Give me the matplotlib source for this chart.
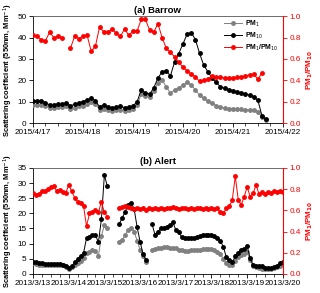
import numpy as np
import pandas as pd
import matplotlib
matplotlib.use("Agg")
import matplotlib.pyplot as plt
import matplotlib.dates as mdates
from matplotlib.ticker import FuncFormatter, MultipleLocator

plt.rcParams['font.family'] = ['Liberation Sans', 'DejaVu Sans']

nan = np.nan

# (a) Barrow, 2-hourly from 2015/4/17 00:00
barrow_start = "2015-04-17 00:00"
barrow_pm1 = [8.3, 8.3, 8.5, 8.0, 7.0, 7.0, 7.5, 7.5, 8.0, 6.5, 7.2, 7.8, 8.2, 8.8, 9.8, 9.0,
              6.2, 6.8, 6.0, 5.6, 6.0, 6.3, 5.8, 6.0, 6.5, 8.5, 13.5, 12.5, 12.0, 15.0, 18.5,
              20.0, 17.0, 14.0, 15.5, 16.6, 17.8, 19.0, 17.8, 15.5, 13.0, 11.5, 10.3, 9.3, 8.2,
              7.5, 7.0, 6.8, 6.6, 6.5, 6.4, 6.3, 6.2, 6.1, 5.4, 2.8, 1.4]
barrow_pm10 = [10.2, 10.3, 10.5, 9.5, 8.5, 8.5, 9.0, 9.0, 9.5, 8.0, 8.8, 9.5, 10.0, 10.8, 11.7,
               10.5, 7.5, 8.5, 7.5, 7.0, 7.5, 7.8, 7.2, 7.5, 8.0, 10.0, 15.5, 14.0, 13.5, 16.5,
               21.0, 24.0, 24.5, 22.0, 28.6, 32.5, 37.0, 41.5, 42.3, 39.0, 32.6, 27.0, 24.0,
               21.0, 19.0, 17.0, 16.3, 15.6, 15.2, 14.5, 14.0, 13.5, 13.1, 12.3, 10.6, 3.3, 1.7]
barrow_ratio = [0.82, 0.81, 0.78, 0.77, 0.85, 0.80, 0.81, 0.80, nan, 0.70, 0.81, 0.79, 0.81,
                0.82, 0.67, 0.72, 0.90, 0.85, 0.85, 0.88, 0.84, 0.81, 0.88, 0.82, 0.86, 0.86,
                0.97, 0.97, 0.87, 0.85, 0.93, 0.80, 0.70, 0.66, 0.62, 0.57, 0.52, 0.49, 0.46,
                0.43, 0.39, 0.40, 0.41, 0.44, 0.43, 0.43, 0.42, 0.42, 0.42, 0.43, 0.43, 0.44,
                0.45, 0.46, 0.41, 0.47, nan]

# (b) Alert, 2-hourly from 2013/3/13 00:00
alert_start = "2013-03-13 00:00"
alert_pm1 = [3.6, 3.3, 3.0, 3.0, 2.9, 2.8, 2.8, 2.9, 3.0, 2.9, 2.8, 2.2, 1.8, 2.2, 3.0, 3.6,
             4.2, 5.2, 6.9, 7.4, 8.0, 7.6, 6.0, 12.5, 16.1, 15.1, nan, nan, nan, 10.5, 11.3,
             12.9, 14.5, 15.3, 14.0, 11.0, 8.0, 5.8, 4.1, nan, 8.0, 8.3, 8.4, 8.5, 8.8, 8.9,
             8.7, 8.5, 8.5, 8.0, 7.8, 7.7, 7.7, 7.8, 7.8, 7.9, 8.0, 8.2, 8.3, 8.3, 8.2, 8.0,
             7.4, 6.5, 5.0, 3.6, 2.8, 3.0, 4.2, 5.5, 6.3, 6.5, 7.2, 4.5, 2.5, 2.2, 2.0, 1.8,
             1.7, 1.7, 1.8, 2.0, 2.2, 2.7, 3.0]
alert_pm10 = [4.1, 3.8, 3.6, 3.5, 3.4, 3.3, 3.2, 3.3, 3.4, 3.3, 3.1, 2.5, 2.0, 2.5, 3.8, 5.0,
              6.0, 6.9, 11.8, 12.3, 13.0, 12.8, 10.5, 18.0, 32.6, 29.0, nan, nan, nan, 16.5,
              18.5, 20.6, 22.7, 23.5, 21.5, 15.5, 10.7, 6.5, 4.6, nan, 16.5, 13.0, 14.0, 15.0,
              15.0, 15.4, 16.0, 17.0, 14.6, 14.0, 12.1, 12.0, 12.0, 12.0, 12.0, 12.1, 12.5,
              13.0, 13.0, 12.9, 12.8, 12.4, 11.9, 11.0, 8.9, 5.5, 4.5, 3.8, 5.8, 6.9, 8.0, 8.3,
              9.1, 5.2, 3.0, 2.6, 2.7, 2.5, 2.1, 2.0, 2.0, 2.3, 2.7, 3.5, 4.1]
alert_ratio = [0.76, 0.74, 0.75, 0.78, 0.78, 0.80, 0.82, 0.83, 0.78, 0.79, 0.77, 0.76, 0.84,
               0.78, 0.72, 0.68, 0.67, 0.64, 0.45, 0.57, 0.58, 0.60, 0.58, 0.68, 0.58, 0.54,
               nan, nan, nan, 0.62, 0.63, 0.64, 0.63, 0.62, 0.61, 0.62, 0.61, 0.62, 0.60, 0.62,
               0.61, 0.62, 0.61, 0.62, 0.61, 0.62, 0.62, 0.63, 0.62, 0.61, 0.62, 0.62, 0.61,
               0.62, 0.61, 0.62, 0.62, 0.61, 0.62, 0.61, 0.62, 0.61, 0.62, 0.58, 0.57, 0.62,
               0.64, 0.70, 0.92, 0.70, 0.65, 0.73, 0.82, 0.73, 0.76, 0.84, 0.75, 0.77, 0.75,
               0.77, 0.76, 0.78, 0.77, 0.78, 0.77]

RED = '#ff0000'
GRAY = '#808080'
FS = 5.9


def date_fmt(x, pos):
    d = mdates.num2date(x)
    return f"{d.year}/{d.month}/{d.day}"


def panel(ax, start, pm1, pm10, ratio, xlim, ymax, ystep, title, legend=False):
    t = pd.date_range(start, periods=len(pm1), freq="2h")
    ax2 = ax.twinx()
    ax.plot(t, pm1, '-o', color=GRAY, ms=2.5, lw=0.7, label='PM$_1$', zorder=3)
    ax.plot(t, pm10, '-o', color='black', ms=2.5, lw=0.7, label='PM$_{10}$', zorder=4)
    ax2.plot(t, ratio, '-o', color=RED, ms=2.5, lw=0.7, label='PM$_1$/PM$_{10}$')
    ax.set_xlim(pd.Timestamp(xlim[0]), pd.Timestamp(xlim[1]))
    ax.set_ylim(0, ymax)
    ax.yaxis.set_major_locator(MultipleLocator(ystep))
    ax2.set_ylim(0, 1)
    ax2.yaxis.set_major_locator(MultipleLocator(0.2))
    ax2.yaxis.set_major_formatter(FuncFormatter(lambda v, p: f"{v:.1f}"))
    ax.xaxis.set_major_locator(mdates.DayLocator())
    ax.xaxis.set_minor_locator(mdates.HourLocator(byhour=[6, 12, 18]))
    ax.xaxis.set_major_formatter(FuncFormatter(date_fmt))
    ax.tick_params(axis='both', which='major', labelsize=FS, length=3, width=0.6, pad=1.5)
    ax.tick_params(axis='x', which='minor', length=2, width=0.5)
    ax2.tick_params(axis='y', labelsize=FS, length=3, width=0.6, pad=1.5,
                    colors=RED)
    for s in ax.spines.values():
        s.set_linewidth(0.6)
    ax.spines['top'].set_color('#555555')
    ax2.spines['right'].set_color(RED)
    ax2.spines['right'].set_linewidth(0.8)
    ax2.spines['left'].set_visible(False)
    ax2.spines['top'].set_visible(False)
    ax2.spines['bottom'].set_visible(False)
    ax.set_ylabel('Scattering coefficient (550nm, Mm$^{-1}$)', fontsize=5.4,
                  fontweight='bold', labelpad=2)
    ax2.set_ylabel(r'PM$_\mathbf{1}$/PM$_\mathbf{10}$', fontsize=5.8, fontweight='bold',
                   color=RED, labelpad=3)
    ax.set_title(title, fontsize=6.8, fontweight='bold', pad=2.5)
    if legend:
        h1, l1 = ax.get_legend_handles_labels()
        h2, l2 = ax2.get_legend_handles_labels()
        leg = ax2.legend(h1 + h2, l1 + l2, loc='upper right', bbox_to_anchor=(1.0, 1.02),
                         frameon=False, fontsize=4.9, handlelength=2.6, handletextpad=0.5,
                         labelspacing=0.25, borderaxespad=0.3)
        for txt in leg.get_texts():
            txt.set_fontweight('bold')
    return ax2


fig = plt.figure(figsize=(3.2, 2.93), dpi=100)
ax_a = fig.add_axes([0.103, 0.580, 0.781, 0.365])
ax_b = fig.add_axes([0.103, 0.065, 0.781, 0.362])

panel(ax_a, barrow_start, barrow_pm1, barrow_pm10, barrow_ratio,
      ("2015-04-17", "2015-04-22"), 50, 10, '(a) Barrow', legend=True)
panel(ax_b, alert_start, alert_pm1, alert_pm10, alert_ratio,
      ("2013-03-13", "2013-03-20"), 35, 5, '(b) Alert')

fig.savefig('out.png', dpi=100)
